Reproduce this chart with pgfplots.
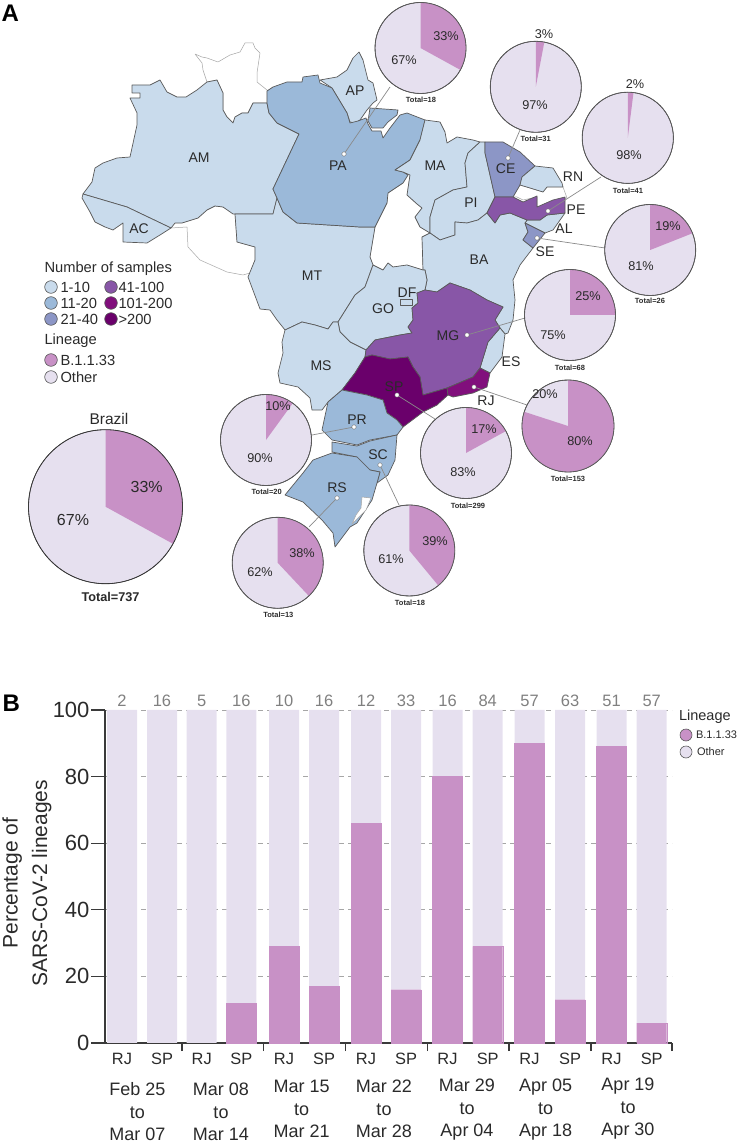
\documentclass[border=0pt]{standalone}
\usepackage{fontspec}
\setmainfont{Liberation Sans}
\usepackage{pgfplots}
\usepackage{pgfplotstable}
\pgfplotsset{compat=1.18}
\definecolor{cA}{HTML}{C9DBEC}
\definecolor{cB}{HTML}{9BB9D9}
\definecolor{cC}{HTML}{8C96C6}
\definecolor{cD}{HTML}{8856A7}
\definecolor{cE}{HTML}{810F7C}
\definecolor{cF}{HTML}{6A006B}
\definecolor{lin}{HTML}{C891C6}
\definecolor{oth}{HTML}{E6E0EF}
\definecolor{edge}{HTML}{5A5A5A}
\definecolor{leadc}{HTML}{8A8A8A}
\definecolor{txt}{HTML}{2A2A2A}
\definecolor{axc}{HTML}{3A3A3A}
\newcommand\fs[1]{\fontsize{#1}{#1}\selectfont}
\newcommand\st[2]{\node[font=\fs{14},text=txt] at (axis cs:#1) {#2};}
\newcommand\pl[2]{\node[font=\fs{12.7},text=txt] at (axis cs:#1) {#2};}
\newcommand\tot[2]{\node[font=\fs{7.5}\bfseries,text=txt] at (axis cs:#1) {#2};}
\newcommand\lgd[2]{\node[font=\fs{14.7},text=txt,anchor=west] at (axis cs:#1) {#2};}
\newcommand\swatch[2]{\addplot[only marks,mark=*,mark size=6.3,mark options={fill=#2,draw=edge,line width=0.6pt}] coordinates {(#1)};}
\newcommand\state[2]{\addplot[fill=#1,draw=edge,line width=0.7pt,line join=round] coordinates {#2} -- cycle;}
\newcommand\blank[1]{\addplot[fill=white,draw=black!35,line width=0.5pt,line join=round] coordinates {#1} -- cycle;}
\newcommand\leader[1]{\addplot[leadc,line width=0.7pt] coordinates {#1};}
\newcommand\cnt[2]{\node[font=\fs{16.5},text=black!50] at (axis cs:#1,700.5) {#2};}
\newcommand\dt[3]{\node[font=\fontsize{18}{22.5}\selectfont,text=txt,align=center] at (axis cs:#1,#2) {#3};}
% one pie: centre x, centre y, radius, share of B.1.1.33 in per cent, edge colour
\newcommand\pie[5]{%
  \pgfdeclareplotmark{slice#3-#4}{%
    \pgfmathsetmacro\endang{90-3.6*#4}%
    \pgfpathmoveto{\pgfpointorigin}%
    \pgfpathlineto{\pgfpointpolar{90}{#3pt}}%
    \pgfpatharc{90}{\endang}{#3pt}%
    \pgfpathclose
    \pgfusepathqfill}%
  \addplot[only marks,mark=*,mark size=#3,mark options={fill=oth,draw=none}] coordinates {(#1,#2)};
  \addplot[only marks,mark=slice#3-#4,mark options={fill=lin,draw=none}] coordinates {(#1,#2)};
  \addplot[only marks,mark=o,mark size=#3,mark options={draw=#5,line width=0.8pt}] coordinates {(#1,#2)};
}
\pgfplotstableread{
pos lin oth
122 0 100
162 0 100
201.7 0 100
241.4 12 88
284 29 71
324 17 83
366 66 34
406 16 84
447.5 80 20
487.7 29 71
529.5 90 10
570 13 87
611.5 89 11
651.7 6 94
}\bartable
\pgfplotsset{pixelaxis/.style={
  at={(0pt,0pt)},anchor=south west,scale only axis,width=739pt,height=1143pt,
  xmin=0,xmax=739,ymin=0,ymax=1143,y dir=reverse,hide axis,clip=false}}
\begin{document}
\begin{tikzpicture}[x=1pt,y=1pt]
\useasboundingbox (0,0) rectangle (739pt,1143pt);
\begin{axis}[pixelaxis]
% white states
\blank{(195,54)(202,57)(207,58)(218,62)(230,55)(240,52)(245,43)(253,43)(255,48)(260,53)(257,73)(257,82)(267,90)(267,103)(253,103)(248,113)(242,113)(235,117)(233,123)(227,117)(223,110)(223,93)(217,80)(207,82)(203,70)(202,63)}
\blank{(171,228)(187,227)(188,247)(200,260)(227,272)(243,275)(250,273)(255,260)(255,247)(237,242)(235,214)(223,207)(215,206)(207,210)(198,218)(182,223)(175,223)}
\blank{(395,170)(403,172)(410,175)(407,195)(417,204)(422,208)(415,217)(420,227)(430,233)(422,237)(423,270)(407,265)(393,267)(388,263)(383,270)(373,265)(370,257)(375,227)(387,203)(388,193)(403,183)(408,175)}
\blank{(520,185)(530,188)(543,192)(547,187)(563,187)(567,198)(557,200)(542,207)(537,207)(537,197)(523,200)(517,197)(513,197)}
% coloured states
\state{cA}{(132,85)(150,85)(160,80)(167,92)(177,97)(186,97)(197,90)(207,82)(217,80)(223,93)(223,110)(227,117)(233,123)(235,117)(242,113)(248,113)(253,103)(267,103)(269,113)(277,123)(287,128)(299,134)(273,189)(277,198)(273,214)(233,214)(223,207)(215,206)(207,210)(198,218)(182,223)(175,223)(171,228)(127,207)(83,194)(92,182)(95,168)(103,163)(117,158)(130,157)(137,125)(137,113)(130,98)(140,98)(140,93)(132,93)}
\state{cA}{(83,194)(127,207)(171,228)(160,235)(147,243)(123,242)(123,223)(113,230)(105,227)(95,222)(90,212)(82,198)}
\state{cA}{(235,214)(273,214)(277,198)(283,212)(297,223)(360,227)(375,227)(370,257)(373,265)(365,287)(355,295)(338,322)(333,322)(328,329)(315,325)(302,322)(285,330)(277,320)(270,310)(260,309)(248,277)(255,260)(255,247)(237,242)}
\state{cA}{(320,80)(337,77)(347,70)(353,58)(359,52)(363,60)(368,80)(373,83)(377,100)(373,103)(367,110)(360,120)(355,123)(350,122)(347,113)(338,98)(332,88)}
\state{cB}{(267,91)(273,87)(287,82)(302,82)(303,77)(318,75)(320,83)(332,88)(338,98)(347,113)(350,123)(358,121)(366,118)(368,124)(372,131)(381,131)(383,138)(390,128)(400,115)(407,113)(425,120)(420,140)(410,160)(395,170)(403,172)(408,175)(403,183)(388,193)(387,203)(375,227)(360,227)(297,223)(283,212)(277,198)(273,189)(299,134)(287,128)(277,123)(269,113)(267,103)}
\state{cB}{(370,108)(398,110)(397,115)(388,122)(383,128)(372,128)(368,121)}
\state{cA}{(425,120)(440,122)(445,132)(447,143)(457,137)(473,140)(480,142)(468,153)(465,163)(467,187)(453,190)(435,200)(430,217)(430,233)(420,227)(415,217)(422,208)(417,204)(407,195)(410,175)(403,172)(395,170)(410,160)(420,140)}
\state{cA}{(480,142)(485,142)(485,153)(495,197)(487,213)(478,220)(467,223)(455,222)(455,235)(440,240)(430,233)(430,217)(435,200)(453,190)(467,187)(465,163)(468,153)}
\state{cC}{(485,142)(503,142)(520,152)(535,166)(522,177)(520,185)(513,197)(495,197)(485,153)}
\state{cA}{(535,166)(553,168)(562,183)(563,187)(547,187)(543,192)(530,188)(520,185)(522,177)}
\state{cA}{(565,213)(553,230)(545,233)(525,223)(527,220)(540,220)(547,215)}
\state{cA}{(422,237)(430,233)(440,240)(455,235)(455,222)(467,223)(478,220)(487,213)(495,223)(500,215)(510,213)(527,220)(525,223)(528,232)(523,240)(533,248)(520,265)(513,280)(515,300)(513,320)(508,333)(505,334)(500,328)(495,320)(503,307)(487,300)(470,290)(450,283)(437,292)(425,290)(427,280)(425,270)(423,270)}
\state{cD}{(495,197)(513,197)(523,202)(537,196)(537,207)(553,200)(565,197)(565,213)(547,215)(540,220)(527,220)(510,213)(500,215)(495,223)(487,213)}
\state{cC}{(525,223)(545,233)(533,248)(523,240)(528,232)}
\state{cA}{(373,265)(383,270)(388,263)(393,267)(407,265)(423,270)(425,270)(427,280)(425,290)(417,293)(418,303)(412,308)(413,320)(408,327)(412,333)(400,335)(375,340)(366,350)(350,342)(340,332)(338,322)(355,295)(365,287)}
\state{cA}{(400,299)(412,299)(412,305)(400,305)}
\state{cA}{(285,330)(302,322)(315,325)(328,329)(333,322)(338,322)(340,332)(350,342)(366,350)(365,357)(355,373)(342,390)(328,402)(322,410)(312,410)(310,398)(298,387)(280,383)(278,373)(283,353)(282,342)}
\state{cA}{(505,334)(502,357)(490,373)(480,368)(488,342)(500,328)}
\state{cD}{(366,350)(375,340)(400,335)(412,333)(408,327)(413,320)(412,308)(418,303)(417,293)(425,290)(437,292)(450,283)(470,290)(487,300)(503,307)(495,320)(500,328)(488,342)(480,368)(473,377)(447,388)(423,395)(420,377)(413,367)(408,357)(390,359)(372,355)(365,357)}
\state{cF}{(365,357)(372,355)(390,359)(408,357)(413,367)(420,377)(423,395)(447,388)(448,395)(437,405)(423,412)(403,427)(397,420)(387,413)(383,400)(367,395)(342,390)(355,373)}
\state{cE}{(473,377)(480,368)(490,373)(487,387)(473,393)(453,397)(448,395)(447,388)}
\state{cB}{(342,390)(367,395)(383,400)(387,413)(397,420)(403,427)(397,435)(370,440)(357,445)(332,440)(322,430)(328,402)}
\state{cB}{(332,442)(357,446)(370,441)(397,435)(395,460)(388,475)(377,483)(380,472)(370,470)(357,457)(332,452)}
\state{cB}{(332,453)(357,457)(370,470)(380,472)(377,483)(372,500)(357,523)(350,527)(335,547)(333,533)(322,520)(303,502)(285,495)(303,473)(313,460)}
\blank{(362,497)(371,498)(366,510)(352,524)(356,515)(361,508)}
% leaders
\leader{(344,154)(390,87)}
\leader{(508,158)(520,130)}
\leader{(548,211)(601,177)}
\leader{(537,238)(605,248)}
\leader{(467,335)(525,318)}
\leader{(474,387)(527,405)}
\leader{(397,395)(435,419)}
\leader{(354,427)(312,435)}
\leader{(380,465)(399,505)}
\leader{(337,498)(309,527)}
% pies
\pie{420.5}{48}{45.5}{33}{edge}
\pie{535.8}{86.8}{45.5}{3}{edge}
\pie{627.8}{137.8}{45.6}{2}{edge}
\pie{650.2}{250}{45.5}{19}{edge}
\pie{570}{315}{45.5}{25}{edge}
\pie{568}{426}{46}{80}{edge}
\pie{466}{453}{45.5}{17}{edge}
\pie{409.3}{550.5}{45.5}{39}{edge}
\pie{277.7}{562.8}{45.5}{38}{edge}
\pie{266}{440}{45.5}{10}{edge}
\pie{105.5}{506.7}{77}{33}{axc}
% dots
\addplot[only marks,mark=*,mark size=2.2,mark options={fill=white,draw=edge,line width=0.3pt}] coordinates {(344,154)(508,158)(548,211)(537,238)(467,335)(474,387)(397,395)(354,427)(380,465)(337,498)};
% legend swatches
\swatch{51,287}{cA}\swatch{51,303}{cB}\swatch{51,319}{cC}
\swatch{111,287}{cD}\swatch{111,303}{cE}\swatch{111,319}{cF}
\swatch{51,360}{lin}\swatch{51,377}{oth}
\addplot[only marks,mark=*,mark size=6,mark options={fill=lin,draw=edge,line width=0.6pt}] coordinates {(686,735)};
\addplot[only marks,mark=*,mark size=6,mark options={fill=oth,draw=edge,line width=0.6pt}] coordinates {(686,752)};
\end{axis}
\begin{axis}[pixelaxis]
% state labels
\st{199,158}{AM}\st{139,229}{AC}\st{338,166}{PA}\st{355,91}{AP}\st{435,166}{MA}
\st{471,203}{PI}\st{505.7,169}{CE}\st{573,177}{RN}\st{576,210}{PE}\st{564,229}{AL}
\st{545,252}{SE}\st{479,260}{BA}\st{312,276}{MT}\st{383,309}{GO}\st{407,293}{DF}
\st{448,336}{MG}\st{511,362}{ES}\st{486,401}{RJ}\st{394,387}{SP}\st{321,366}{MS}
\st{357,420}{PR}\st{378,455}{SC}\st{337,488}{RS}
% pie labels
\pl{446,36}{33\%}\pl{404,60}{67\%}\tot{421,100}{Total=18}
\pl{544,34}{3\%}\pl{535,105}{97\%}\tot{535.7,139}{Total=31}
\pl{635,84}{2\%}\pl{629,155}{98\%}\tot{628,190.7}{Total=41}
\pl{668,226}{19\%}\pl{641,266}{81\%}\tot{650,301}{Total=26}
\pl{588,296}{25\%}\pl{553,335}{75\%}\tot{570,368}{Total=68}
\pl{545,394}{20\%}\pl{580,441}{80\%}\tot{568,479}{Total=153}
\pl{484,429}{17\%}\pl{463,472}{83\%}\tot{468,506}{Total=299}
\pl{435,541}{39\%}\pl{391,559}{61\%}\tot{410,602.7}{Total=18}
\pl{302,552.7}{38\%}\pl{260,571.7}{62\%}\tot{278.3,615}{Total=13}
\pl{278,406}{10\%}\pl{260,458}{90\%}\tot{266.7,492.3}{Total=20}
\node[font=\fs{16},text=txt] at (axis cs:146.7,486.7) {33\%};
\node[font=\fs{16},text=txt] at (axis cs:73,520) {67\%};
\node[font=\fs{15.5},text=txt] at (axis cs:109,419) {Brazil};
\node[font=\fs{12.7}\bfseries,text=txt] at (axis cs:110.5,597) {Total=737};
% legend A
\lgd{41,269}{Number of samples}
\lgd{57,287}{1-10}\lgd{57,303}{11-20}\lgd{57,319}{21-40}
\lgd{115,287}{41-100}\lgd{115,303}{101-200}\lgd{115,319}{>200}
\lgd{41,341}{Lineage}
\lgd{57,360}{B.1.1.33}\lgd{57,377}{Other}
% panel letters
\node[font=\fs{24}\bfseries,text=black,anchor=west] at (axis cs:-2,13) {A};
\node[font=\fs{24}\bfseries,text=black,anchor=west] at (axis cs:-1,703) {B};
% counts above bars
\cnt{122}{2}\cnt{162}{16}\cnt{201.7}{5}\cnt{241.4}{16}\cnt{284}{10}\cnt{324}{16}\cnt{366}{12}
\cnt{406}{33}\cnt{447.5}{16}\cnt{487.7}{84}\cnt{529.5}{57}\cnt{570}{63}\cnt{611.5}{51}\cnt{651.7}{57}
% date groups
\dt{137.5}{1112}{Feb 25\\to\\Mar 07}
\dt{221}{1112}{Mar 08\\to\\Mar 14}
\dt{301.7}{1109}{Mar 15\\to\\Mar 21}
\dt{384}{1109}{Mar 22\\to\\Mar 28}
\dt{467}{1110}{Mar 29\\to\\Apr 04}
\dt{545.6}{1110}{Apr 05\\to\\Apr 18}
\dt{628}{1109}{Apr 19\\to\\Apr 30}
% legend B
\node[font=\fs{14.5},text=txt,anchor=west] at (axis cs:675.5,717) {Lineage};
\node[font=\fs{11},text=txt,anchor=west] at (axis cs:692.5,735) {B.1.1.33};
\node[font=\fs{11},text=txt,anchor=west] at (axis cs:693.5,752) {Other};
\end{axis}
\begin{axis}[
  at={(105pt,100pt)},anchor=south west,scale only axis,width=567pt,height=333pt,
  xmin=105,xmax=672,ymin=0,ymax=100,clip=false,
  axis x line=bottom,axis y line=left,axis line style={-,draw=axc,line width=1.6pt},
  ybar stacked,bar width=30,
  ylabel={Percentage of\\SARS-CoV-2 lineages},
  ylabel style={align=center,font=\fontsize{21}{29.5}\selectfont,text=txt,at={(axis description cs:-0.1376,0.48)},anchor=center},
  ytick={0,20,40,60,80,100},
  yticklabel style={font=\fs{22},text=txt,xshift=2pt},
  /pgf/number format/assume math mode=true,
  tickwidth=14pt,tick align=outside,
  ytick style={draw=axc,line width=1.2pt},
  ymajorgrids,
  grid style={draw=black!35,dash pattern=on 5pt off 4pt,line width=0.6pt},
  xtick={122,162,201.7,241.4,284,324,366,406,447.5,487.7,529.5,570,611.5,651.7},
  xticklabels={RJ,SP,RJ,SP,RJ,SP,RJ,SP,RJ,SP,RJ,SP,RJ,SP},
  xticklabel style={font=\fs{16.4},text=txt,yshift=7pt},
  xtick style={draw=none},
  extra x ticks={182,263.6,345.5,427.4,509,590.9,672},
  extra x tick labels={},
  extra x tick style={tickwidth=8pt,xtick style={draw=axc,line width=1.4pt},grid=none},
]
\addplot[fill=lin,draw=lin,line width=0.4pt] table[x=pos,y=lin] {\bartable};
\addplot[fill=oth,draw=none] table[x=pos,y=oth] {\bartable};
\end{axis}
\end{tikzpicture}
\end{document}
